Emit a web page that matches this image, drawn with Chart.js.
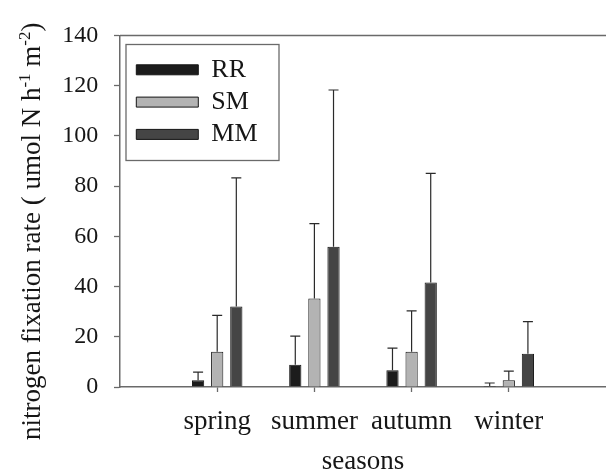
<!DOCTYPE html>
<html><head><meta charset="utf-8">
<script src="https://cdn.jsdelivr.net/npm/chart.js@4.4.0/dist/chart.umd.min.js"></script>
<style>html,body{margin:0;padding:0;background:#fff;}#wrap{width:606px;height:475px;}</style>
</head><body><div id="wrap"><canvas id="c" width="606" height="475"></canvas></div>
<script>
const categories = ['spring', 'summer', 'autumn', 'winter'];
const seriesNames = ['RR', 'SM', 'MM'];
const rrMean = [2.7, 8.9, 6.7, 0.4];
const rrErr  = [3.2, 11.4, 8.8, 1.2];
const smMean = [14.0, 35.2, 14.0, 2.7];
const smErr  = [14.5, 29.9, 16.3, 3.6];
const mmMean = [32.1, 55.9, 41.6, 13.2];
const mmErr  = [51.2, 62.4, 43.5, 12.8];
const yTicks = [0, 20, 40, 60, 80, 100, 120, 140];
const xTitle = 'seasons';
// y title pieces: [text, isSuperscript]
const yTitleParts = [['nitrogen fixation rate ( umol N h', false], ['-1', true], [' m', false], ['-2', true], [')', false]];

const FONT = "'Liberation Serif', 'Times New Roman', serif";
const AXIS = '#6a6a6a';
const TEXT = '#161616';

const pad = a => [null, ...a, null];
const labels = ['', ...categories, ''];

const errorBars = {
  id: 'errorBars',
  afterDatasetsDraw(chart) {
    const ctx = chart.ctx, ys = chart.scales.y;
    chart.data.datasets.forEach((ds, i) => {
      const meta = chart.getDatasetMeta(i);
      meta.data.forEach((el, j) => {
        const v = ds.data[j], e = ds.errors[j];
        if (v == null || e == null) return;
        const top = ys.getPixelForValue(v + e);
        ctx.save();
        ctx.strokeStyle = '#2a2a2a';
        ctx.lineWidth = 1.2;
        ctx.beginPath();
        ctx.moveTo(el.x, el.y);
        ctx.lineTo(el.x, top);
        ctx.moveTo(el.x - 5, top);
        ctx.lineTo(el.x + 5, top);
        ctx.stroke();
        ctx.restore();
      });
    });
  }
};

const frame = {
  id: 'frame',
  beforeDraw(chart) {
    const lg = chart.legend, a = chart.chartArea;
    if (lg) { lg.left = a.left + 10; lg.top = a.top + 15; }
  },
  beforeDatasetsDraw(chart) {
    const ctx = chart.ctx, a = chart.chartArea;
    ctx.save();
    ctx.strokeStyle = AXIS;
    ctx.lineWidth = 1.5;
    ctx.beginPath();
    ctx.moveTo(a.left, a.top);
    ctx.lineTo(a.right, a.top);
    ctx.stroke();
    // legend frame
    ctx.lineWidth = 1.3;
    ctx.strokeRect(a.left + 6, a.top + 9, 153, 116);
    ctx.restore();
  },
  afterDraw(chart) {
    const ctx = chart.ctx;
    ctx.save();
    ctx.fillStyle = TEXT;
    const big = '27px ' + FONT, small = '17px ' + FONT;
    const bx = 40, by = 440;
    ctx.translate(bx, by);
    ctx.rotate(-Math.PI / 2);
    ctx.textBaseline = 'alphabetic';
    ctx.textAlign = 'left';
    let x = 0;
    yTitleParts.forEach(([t, s]) => {
      ctx.font = s ? small : big;
      ctx.fillText(t, x, s ? -10 : 0);
      x += ctx.measureText(t).width;
    });
    ctx.restore();
  }
};

const mk = (name, data, err, color) => ({
  label: name, data: pad(data), errors: pad(err),
  backgroundColor: color, borderColor: '#151515', borderWidth: 1,
  categoryPercentage: 0.59, barPercentage: 0.64
});

new Chart(document.getElementById('c'), {
  type: 'bar',
  data: {
    labels,
    datasets: [
      mk(seriesNames[0], rrMean, rrErr, '#1c1c1c'),
      mk(seriesNames[1], smMean, smErr, '#b3b3b3'),
      mk(seriesNames[2], mmMean, mmErr, '#454545')
    ]
  },
  options: {
    responsive: false,
    animation: false,
    layout: { padding: { top: 35.5, right: 0, left: 0, bottom: 0 } },
    plugins: {
      tooltip: { enabled: false },
      legend: {
        position: 'chartArea',
        align: 'start',
        labels: {
          boxWidth: 62, boxHeight: 10, padding: 6.3,
          color: TEXT, font: { family: FONT, size: 26 }
        }
      }
    },
    scales: {
      x: {
        offset: false,
        grid: {
          offset: false, drawOnChartArea: false, drawTicks: true, tickLength: 5,
          tickColor: c => (c.index === 0 || c.index === labels.length - 1) ? 'rgba(0,0,0,0)' : AXIS,
          tickWidth: 1.3
        },
        border: { display: true, color: AXIS, width: 1.5 },
        ticks: { color: TEXT, font: { family: FONT, size: 27 }, padding: 14, maxRotation: 0, autoSkip: false },
        title: { display: true, text: xTitle, color: TEXT, font: { family: FONT, size: 27, lineHeight: 1 }, padding: { top: 0, bottom: 0 } },
        afterFit: s => { s.height = 88; s.paddingLeft = 0; s.paddingRight = 0; }
      },
      y: {
        min: 0, max: 140,
        afterBuildTicks: s => { s.ticks = yTicks.map(v => ({ value: v })); },
        grid: { drawOnChartArea: false, drawTicks: true, tickLength: 6, tickColor: AXIS, tickWidth: 1.3 },
        border: { display: true, color: AXIS, width: 1.5 },
        ticks: { color: TEXT, font: { family: FONT, size: 24 }, padding: 15.7 },
        afterFit: s => { s.width = 120; }
      }
    }
  },
  plugins: [errorBars, frame]
});
</script>
</body></html>
